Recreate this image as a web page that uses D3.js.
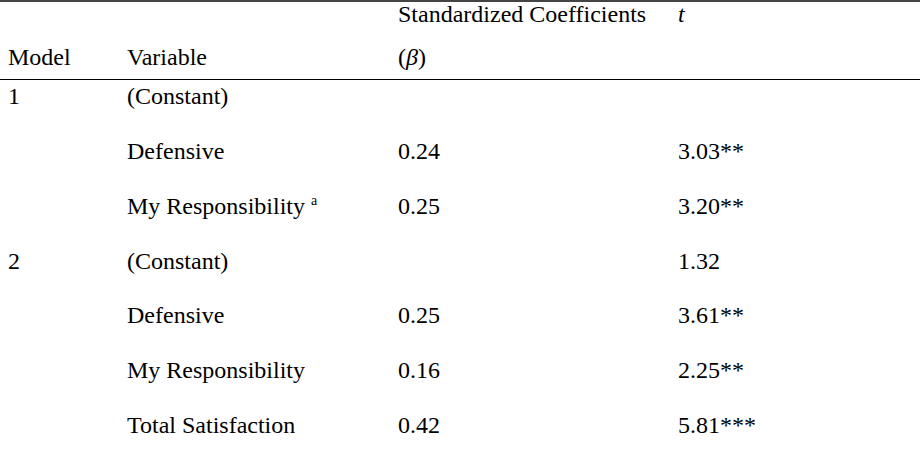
<!DOCTYPE html>
<html>
<head>
<meta charset="utf-8">
<script src="https://cdn.jsdelivr.net/npm/d3@7/dist/d3.min.js"></script>
<style>
html,body{margin:0;padding:0;background:#fff;}
#chart{position:relative;width:920px;height:464px;overflow:hidden;font-family:'Liberation Serif','Times New Roman',Times,serif;font-size:24px;line-height:24px;color:#000;}
.cell{position:absolute;white-space:nowrap;}
.rule{position:absolute;left:0;width:920px;}
sup{font-size:14px;vertical-align:top;position:relative;top:-5px;}
</style>
</head>
<body>
<div id="chart"></div>
<script>
const models = ["1", "", "", "2", "", "", ""];
const variables = ["(Constant)", "Defensive", "My Responsibility", "(Constant)", "Defensive", "My Responsibility", "Total Satisfaction"];
const footnoteMarks = ["", "", "a", "", "", "", ""];
const betas = ["", "0.24", "0.25", "", "0.25", "0.16", "0.42"];
const tValues = ["", "3.03**", "3.20**", "1.32", "3.61**", "2.25**", "5.81***"];
const columns = ["model", "variable", "beta", "t"];

const W = 920, H = 464;
const BASE = 20; // baseline offset from top of line box
const chart = d3.select("#chart");

const x = d3.scaleOrdinal().domain(columns).range([8, 127, 398, 678]);
const y = d3.scaleLinear().domain([0, 6]).range([104, 433]);

// rules
chart.append("div").attr("class", "rule").style("top", "0px").style("height", "2px").style("background", "#444");
chart.append("div").attr("class", "rule").style("top", "79px").style("height", "1px").style("background", "#000");

function cell(col, baseline) {
  return chart.append("div").attr("class", "cell")
    .style("left", x(col) + "px").style("top", (baseline - BASE) + "px");
}

// header
cell("beta", 22).text("Standardized Coefficients");
cell("t", 22).style("font-style", "italic").text("t");
cell("model", 65).text("Model");
cell("variable", 65).text("Variable");
cell("beta", 65).html("(<i>β</i>)");

// body
const rows = variables.map((v, i) => ({i, model: models[i], variable: v, mark: footnoteMarks[i], beta: betas[i], t: tValues[i]}));
rows.forEach(d => {
  const by = y(d.i);
  if (d.model) cell("model", by).text(d.model);
  const vc = cell("variable", by);
  vc.append("span").text(d.variable);
  if (d.mark) { vc.append("span").text(" "); vc.append("sup").text(d.mark); }
  if (d.beta) cell("beta", by).text(d.beta);
  if (d.t) cell("t", by).text(d.t);
});
</script>
</body>
</html>
